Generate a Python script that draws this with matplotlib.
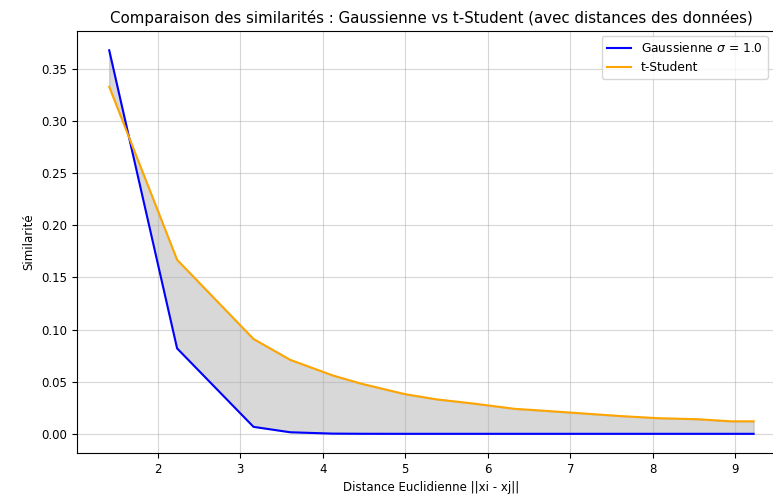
import matplotlib
matplotlib.use('Agg')
import matplotlib.pyplot as plt
import numpy as np

# Pairwise distances between the data points and the two similarity kernels
distances = [1.414, 2.236, 3.162, 3.606, 4.123, 4.472, 5.000, 5.385, 5.831,
             6.325, 6.708, 7.071, 7.616, 8.062, 8.544, 8.944, 9.220]
gauss_sim = [0.368, 0.082, 0.0067, 0.0015, 0.0002, 0.00005, 0.0, 0.0, 0.0,
             0.0, 0.0, 0.0, 0.0, 0.0, 0.0, 0.0, 0.0]
student_sim = [0.333, 0.167, 0.091, 0.071, 0.056, 0.048, 0.038, 0.033, 0.029,
               0.024, 0.022, 0.020, 0.017, 0.015, 0.014, 0.012, 0.012]

fig = plt.figure(figsize=(7.73, 4.94), dpi=100)
ax = fig.add_axes([0.0996, 0.083, 0.917, 0.854])

ax.plot(distances, gauss_sim, color='blue', linewidth=1.5, label=r'Gaussienne $\sigma$ = 1.0')
ax.plot(distances, student_sim, color='orange', linewidth=1.5, label='t-Student')
ax.fill_between(distances, gauss_sim, student_sim, color='gray', alpha=0.3)

ax.set_title('Comparaison des similarités : Gaussienne vs t-Student (avec distances des données)',
             fontsize=10.8)
ax.set_xlabel('Distance Euclidienne ||xi - xj||', fontsize=8.5)
ax.set_ylabel('Similarité', fontsize=8.5)
ax.tick_params(labelsize=8.5)
ax.grid(True, alpha=0.5)
ax.legend(loc='upper left', bbox_to_anchor=(602 / 773, 1 - 36 / 494),
          bbox_transform=fig.transFigure, fontsize=8.8, borderaxespad=0)

fig.savefig('out.png', dpi=100)
